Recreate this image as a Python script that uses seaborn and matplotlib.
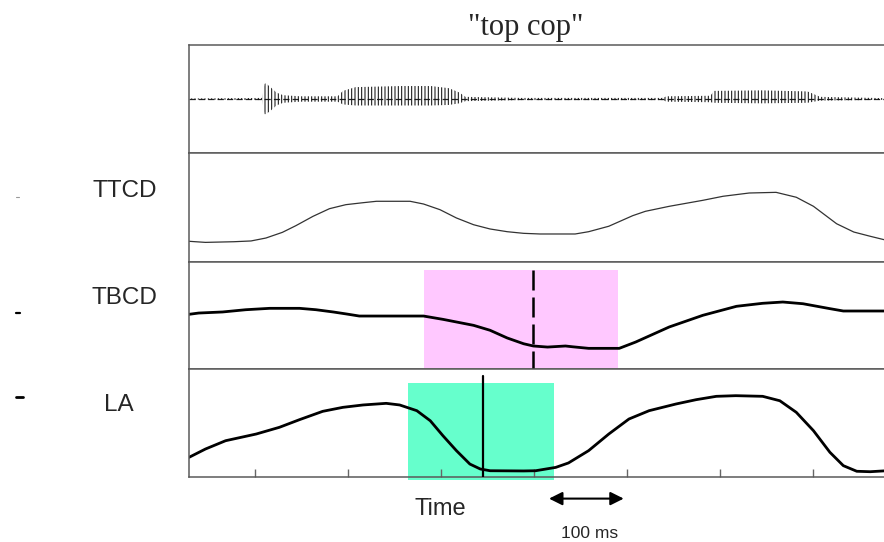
import matplotlib
matplotlib.use('Agg')
import matplotlib.pyplot as plt
import seaborn as sns
from matplotlib.lines import Line2D
from matplotlib.patches import Rectangle

sns.set_style('white')
plt.rcParams['font.family'] = ['Liberation Sans', 'DejaVu Sans']
plt.rcParams['hatch.linewidth'] = 0.75

# ---------------- data (time in ms) ----------------
title = '"top cop"'
panel_labels = ['TTCD', 'TBCD', 'LA']
x_ticks = [89, 213, 338, 462, 587, 711, 836]
x_max = 934

# acoustic waveform envelope
wave_t = [0, 98, 101, 103, 109, 117, 126, 149, 199, 206, 223, 284, 324, 348, 362,
          370, 445, 633, 640, 698, 703, 767, 828, 845, 934]
wave_hi = [0.01, 0.02, 0.28, 0.29, 0.22, 0.12, 0.07, 0.05, 0.05, 0.15, 0.22, 0.24,
           0.24, 0.2, 0.12, 0.04, 0.02, 0.02, 0.05, 0.06, 0.15, 0.16, 0.14, 0.04, 0.015]
wave_lo = [-0.01, -0.02, -0.28, -0.28, -0.22, -0.12, -0.07, -0.05, -0.05, -0.1, -0.12,
           -0.12, -0.12, -0.11, -0.08, -0.04, -0.02, -0.02, -0.05, -0.06, -0.07, -0.08,
           -0.07, -0.03, -0.015]

# tongue tip constriction degree
ttcd_t = [0, 22, 60, 83, 103, 125, 143, 166, 188, 210, 233, 251, 296, 314, 336, 358,
          381, 403, 426, 448, 470, 517, 535, 562, 594, 611, 643, 688, 715, 750, 786,
          813, 836, 867, 890, 912, 934]
ttcd_v = [0.19, 0.18, 0.186, 0.193, 0.22, 0.272, 0.333, 0.419, 0.489, 0.526, 0.544,
          0.557, 0.557, 0.532, 0.48, 0.404, 0.342, 0.303, 0.278, 0.263, 0.257, 0.257,
          0.278, 0.328, 0.425, 0.465, 0.511, 0.566, 0.603, 0.633, 0.639, 0.594, 0.511,
          0.351, 0.275, 0.236, 0.199]

# tongue body constriction degree
tbcd_t = [0, 13, 45, 76, 108, 148, 170, 193, 211, 228, 314, 340, 381, 403, 426, 448,
          461, 480, 504, 513, 535, 576, 598, 643, 688, 733, 768, 795, 822, 858, 876, 934]
tbcd_v = [0.511, 0.523, 0.533, 0.554, 0.567, 0.567, 0.554, 0.533, 0.514, 0.495, 0.495,
          0.464, 0.408, 0.362, 0.29, 0.236, 0.215, 0.205, 0.215, 0.208, 0.193, 0.193,
          0.252, 0.393, 0.502, 0.586, 0.614, 0.626, 0.61, 0.564, 0.542, 0.542]

# lip aperture
la_t = [0, 22, 49, 90, 121, 148, 179, 206, 233, 264, 282, 305, 323, 340, 358, 376,
        390, 403, 448, 464, 491, 508, 535, 562, 589, 616, 652, 679, 706, 732, 768, 791,
        813, 836, 858, 876, 894, 912, 934]
la_v = [0.182, 0.259, 0.336, 0.398, 0.46, 0.531, 0.608, 0.645, 0.667, 0.682, 0.667,
        0.614, 0.521, 0.382, 0.244, 0.12, 0.074, 0.058, 0.056, 0.058, 0.089, 0.13,
        0.244, 0.398, 0.537, 0.614, 0.676, 0.716, 0.747, 0.753, 0.747, 0.706, 0.599,
        0.429, 0.229, 0.105, 0.053, 0.049, 0.058]

# gesture activation windows and target-achievement marks
tbcd_window = [314, 575]
tbcd_mark = 461
la_window = [293, 489]
la_mark = 394
scale_bar = [482, 582]   # 100 ms

# ---------------- layout ----------------
FW, FH = 884, 542
fig = plt.figure(figsize=(FW / 100, FH / 100), dpi=100)
left = 189 / FW
width = 1 - left + 0.003
rows = [(45, 153), (153, 262), (262, 369), (369, 477)]
axes = []
for top, bot in rows:
    ax = fig.add_axes([left, 1 - bot / FH, width, (bot - top) / FH])
    ax.set_xlim(0, x_max)
    ax.set_xticks([])
    ax.set_yticks([])
    for s in ['left', 'top', 'bottom']:
        ax.spines[s].set_color('#5a5a5a')
        ax.spines[s].set_linewidth(1.1)
    ax.spines['right'].set_visible(False)
    axes.append(ax)

ax_w, ax_tt, ax_tb, ax_la = axes

# waveform
ax_w.set_ylim(-1, 1)
ax_w.axhline(0, color='#222222', lw=0.9, ls=(0, (5, 2.5)), zorder=1)
ax_w.fill_between(wave_t, wave_lo, wave_hi, facecolor='none', edgecolor='#111111',
                  hatch='|||||', linewidth=0, zorder=2)

line_kw = dict(estimator=None, sort=False, solid_joinstyle='round',
               solid_capstyle='round')

# TTCD
ax_tt.set_ylim(0, 1)
sns.lineplot(x=ttcd_t, y=ttcd_v, ax=ax_tt, color='#333333', linewidth=0.9, **line_kw)

# TBCD
ax_tb.set_ylim(0, 1)
ax_tb.add_patch(Rectangle((tbcd_window[0], 0.01), tbcd_window[1] - tbcd_window[0], 0.915,
                          facecolor='#FFC8FF', edgecolor='none', zorder=0.5))
sns.lineplot(x=tbcd_t, y=tbcd_v, ax=ax_tb, color='black', linewidth=2.0, **line_kw)
ax_tb.axvline(tbcd_mark, ymin=-0.02, ymax=0.925, color='black', lw=1.8,
              ls=(0, (8, 2.8)), clip_on=False, zorder=3)

# LA
ax_la.set_ylim(0, 1)
ax_la.add_patch(Rectangle((la_window[0], -0.028), la_window[1] - la_window[0], 0.898,
                          facecolor='#66FFCC', edgecolor='none', zorder=0.5,
                          clip_on=False))
sns.lineplot(x=la_t, y=la_v, ax=ax_la, color='black', linewidth=2.0, **line_kw)
ax_la.axvline(la_mark, ymin=0, ymax=0.935, color='black', lw=1.6, zorder=3)
ax_la.set_xticks(x_ticks)
ax_la.tick_params(axis='x', direction='in', length=6, width=1, color='#666666',
                  bottom=True, labelbottom=False)

for ax in axes:
    ax.set_xlabel('')
    ax.set_ylabel('')

# 100 ms scale arrow
ax_la.annotate('', xy=(scale_bar[1], -0.2), xytext=(scale_bar[0], -0.2),
               xycoords=('data', 'axes fraction'), textcoords=('data', 'axes fraction'),
               arrowprops=dict(arrowstyle='<|-|>', color='black', lw=1.5,
                               mutation_scale=20, shrinkA=0, shrinkB=0),
               annotation_clip=False)

# texts
fig.text(526 / FW, 1 - 27 / FH, title, ha='center', va='center',
         family='Liberation Serif', fontsize=22)
for lab, (x, y) in zip(panel_labels, [(124.5, 190.5), (124, 297.5), (119, 405)]):
    fig.text(x / FW, 1 - y / FH, lab, ha='center', va='center', fontsize=17.5)
fig.text(440 / FW, 1 - 509 / FH, 'Time', ha='center', va='center', fontsize=17)
fig.text(590 / FW, 1 - 534 / FH, '100 ms', ha='center', va='center', fontsize=12.5)

# small stray marks at the far left
for y, w, c, lw in [(197, 3, '#999999', 0.8), (313, 4, 'black', 1.6), (397, 7, 'black', 2.0)]:
    fig.add_artist(Line2D([16 / FW, (16 + w) / FW], [1 - y / FH] * 2, color=c, lw=lw))

fig.savefig('out.png', dpi=100)
